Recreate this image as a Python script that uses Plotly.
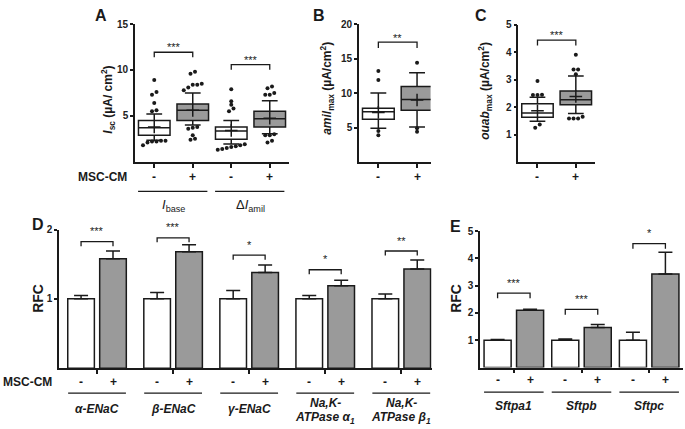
import plotly.graph_objects as go

W, H = 685, 429
def fx(p): return p / W
def fy(p): return 1 - p / H

FONT = "Arial, Liberation Sans, sans-serif"
INK = "#1a1a1a"
GRAY = "#9a9a9a"

# ---------------- data ----------------
A_cats = ["-", "+", "-", "+"]
A_q1 = [2.9, 4.5, 2.45, 3.8]
A_med = [3.7, 5.6, 3.35, 4.7]
A_q3 = [4.5, 6.3, 3.8, 5.5]
A_lo = [2.35, 4.0, 1.95, 3.05]
A_hi = [5.2, 7.5, 4.5, 6.65]
A_mean = [3.8, 5.6, 3.4, 4.75]
A_out = [[8.9, 7.6, 7.3, 6.4, 5.6, 5.5, 2.3, 2.3, 2.2, 2.2, 2.1, 1.8],
         [9.8, 9.6, 8.5, 8.4, 8.4, 8.1, 7.8, 3.8, 3.7, 3.6, 2.9, 2.5, 2.4],
         [7.9, 6.6, 6.2, 5.8, 5.5, 1.9, 1.8, 1.7, 1.6, 1.5, 1.4, 1.3],
         [8.2, 8.0, 7.5, 7.3, 7.3, 3.0, 2.9, 2.9, 2.3, 2.1]]
A_groups = ["<i>I</i><sub>base</sub>", "Δ<i>I</i><sub>amil</sub>"]

B_cats = ["-", "+"]
B_q1 = [6.2, 7.5]
B_med = [7.3, 9.05]
B_q3 = [7.8, 10.95]
B_lo = [4.9, 5.1]
B_hi = [10.0, 12.95]
B_mean = [7.2, 9.0]
B_out = [[13.2, 11.9, 4.5, 3.9], [14.4, 4.9, 4.4]]

C_cats = ["-", "+"]
C_q1 = [1.63, 2.09]
C_med = [1.79, 2.27]
C_q3 = [2.12, 2.59]
C_lo = [1.49, 1.77]
C_hi = [2.36, 3.13]
C_mean = [1.87, 2.39]
C_out = [[2.95, 2.45, 2.44, 2.44, 1.37, 1.25],
         [3.91, 3.37, 3.37, 3.2, 1.65, 1.59, 1.59, 1.59]]

D_genes_l1 = ["<i>α-ENaC</i>", "<i>β-ENaC</i>", "<i>γ-ENaC</i>", "<i>Na,K-</i>", "<i>Na,K-</i>"]
D_genes_l2 = ["", "", "", "<i>ATPase α<sub>1</sub></i>", "<i>ATPase β<sub>1</sub></i>"]
D_ctrl = [1.0, 1.0, 1.0, 1.0, 1.0]
D_ctrl_err = [0.05, 0.09, 0.12, 0.05, 0.07]
D_cm = [1.58, 1.68, 1.38, 1.19, 1.43]
D_cm_err = [0.11, 0.10, 0.11, 0.08, 0.13]
D_sig = ["***", "***", "*", "*", "**"]
D_brk = [1.825, 1.88, 1.63, 1.42, 1.69]

E_genes = ["<i>Sftpa1</i>", "<i>Sftpb</i>", "<i>Sftpc</i>"]
E_ctrl = [1.0, 1.0, 1.0]
E_ctrl_err = [0.03, 0.05, 0.29]
E_cm = [2.1, 1.47, 3.43]
E_cm_err = [0.04, 0.11, 0.8]
E_sig = ["***", "***", "*"]
E_brk = [2.73, 2.13, 4.54]

A_sig = ["***", "***"]
A_brk = [11.93, 10.57]
B_sig = ["**"]
B_brk = [17.37]
C_sig = ["***"]
C_brk = [4.44]

fig = go.Figure()
annotations = []
shapes = []

def txt(x, y, s, size=12, xref="paper", yref="paper", angle=0, bold=True, color=INK,
        xanchor="center", yanchor="middle"):
    annotations.append(dict(x=x, y=y, xref=xref, yref=yref, text=s, showarrow=False,
                            textangle=angle, xanchor=xanchor, yanchor=yanchor,
                            font=dict(family=FONT, size=size, color=color,
                                      weight="bold" if bold else "normal")))

def spread(vals, pxy, pxx, step=4.5, tol=3.5):
    vs = sorted(vals)
    groups, cur = [], [vs[0]]
    for v in vs[1:]:
        if (v - cur[-1]) * pxy < tol:
            cur.append(v)
        else:
            groups.append(cur); cur = [v]
    groups.append(cur)
    xs, ys = [], []
    for g in groups:
        n = len(g)
        for k, v in enumerate(g):
            xs.append((k - (n - 1) / 2) * step / pxx)
            ys.append(v)
    return xs, ys

def boxes(ax, q1, med, q3, lo, hi, mean, outs, pxy, pxx):
    xa, ya = "x" + ax, "y" + ax
    for i in range(len(q1)):
        fill = "white" if i % 2 == 0 else GRAY
        fig.add_trace(go.Box(x=[i], q1=[q1[i]], median=[med[i]], q3=[q3[i]],
                             lowerfence=[lo[i]], upperfence=[hi[i]], width=0.82,
                             whiskerwidth=0.5, fillcolor=fill, boxpoints=False,
                             line=dict(color=INK, width=1.5), xaxis=xa, yaxis=ya,
                             showlegend=False, hoverinfo="skip"))
        ox, oy = spread(outs[i], pxy, pxx)
        fig.add_trace(go.Scatter(x=[i + o for o in ox], y=oy, mode="markers",
                                 marker=dict(size=4, color=INK), xaxis=xa, yaxis=ya,
                                 showlegend=False, hoverinfo="skip"))
        fig.add_trace(go.Scatter(x=[i], y=[mean[i]], mode="markers",
                                 marker=dict(symbol="cross-thin", size=9,
                                             line=dict(width=1.5, color=INK)),
                                 xaxis=xa, yaxis=ya, showlegend=False, hoverinfo="skip"))

def bracket(ax, xl, xr, ytop, drop, label, star_gap):
    shapes.append(dict(type="path", xref="x" + ax, yref="y" + ax,
                       path=f"M {xl},{ytop-drop} L {xl},{ytop} L {xr},{ytop} L {xr},{ytop-drop}",
                       line=dict(color=INK, width=1.3)))
    txt((xl + xr) / 2, ytop + star_gap, label, size=11, xref="x" + ax, yref="y" + ax,
        bold=False, color=INK, yanchor="bottom")

# ---------- panels A-C ----------
boxes("", A_q1, A_med, A_q3, A_lo, A_hi, A_mean, A_out, 140 / 15, 38.5)
boxes("2", B_q1, B_med, B_q3, B_lo, B_hi, B_mean, B_out, 7.0, 38.7)
boxes("3", C_q1, C_med, C_q3, C_lo, C_hi, C_mean, C_out, 27.9, 38.0)

for k in range(2):
    bracket("", 2 * k, 2 * k + 1, A_brk[k], 0.55, A_sig[k], -0.35)
bracket("2", 0, 1, B_brk[0], 0.85, B_sig[0], -0.5)
bracket("3", 0, 1, C_brk[0], 0.2, C_sig[0], -0.12)

for i, c in enumerate(A_cats):
    txt(i, fy(173), c, size=12, xref="x")
for i, c in enumerate(B_cats):
    txt(i, fy(173), c, size=12, xref="x2")
for i, c in enumerate(C_cats):
    txt(i, fy(173), c, size=12, xref="x3")
txt(fx(102), fy(173), "MSC-CM", size=12)
for k, g in enumerate(A_groups):
    c = 2 * k + 0.5
    shapes.append(dict(type="line", xref="x", yref="paper", x0=c - 0.92, x1=c + 0.88,
                       y0=fy(188), y1=fy(188), line=dict(color=INK, width=1.2)))
    txt(c, fy(202), g, size=13, xref="x", bold=False)

# ---------- panels D, E ----------
def bars(ax, ctrl, cerr, cm, merr, half, bw):
    xa, ya = "x" + ax, "y" + ax
    idx = list(range(len(ctrl)))
    for vals, errs, fill, off in [(ctrl, cerr, "white", -half - bw / 2), (cm, merr, GRAY, half - bw / 2)]:
        fig.add_trace(go.Bar(x=idx, y=vals, width=bw, offset=off,
                             marker=dict(color=fill, line=dict(color=INK, width=1.5)),
                             error_y=dict(type="data", array=errs, arrayminus=[0] * len(errs),
                                          symmetric=False, color=INK, thickness=1.5, width=7),
                             xaxis=xa, yaxis=ya, showlegend=False, hoverinfo="skip"))

bars("4", D_ctrl, D_ctrl_err, D_cm, D_cm_err, 0.21, 0.35)
bars("5", E_ctrl, E_ctrl_err, E_cm, E_cm_err, 0.24, 0.40)

for i in range(len(D_ctrl)):
    bracket("4", i - 0.21, i + 0.21, D_brk[i], 0.065, D_sig[i], 0.035)
    txt(i - 0.21, fy(381.7), "-", xref="x4")
    txt(i + 0.21, fy(381.7), "+", xref="x4")
    shapes.append(dict(type="line", xref="x4", yref="paper", x0=i - 0.38, x1=i + 0.38,
                       y0=fy(392.7), y1=fy(392.7), line=dict(color=INK, width=1.2)))
    if D_genes_l2[i]:
        txt(i, fy(402.5), D_genes_l1[i], size=12, xref="x4")
        txt(i, fy(418), D_genes_l2[i], size=12, xref="x4")
    else:
        txt(i, fy(409), D_genes_l1[i], size=12, xref="x4")
txt(fx(27), fy(381.7), "MSC-CM", size=12)

for i in range(len(E_genes)):
    bracket("5", i - 0.24, i + 0.24, E_brk[i], 0.19, E_sig[i], 0.08)
    txt(i - 0.24, fy(379.3), "-", xref="x5")
    txt(i + 0.24, fy(379.3), "+", xref="x5")
    shapes.append(dict(type="line", xref="x5", yref="paper", x0=i - 0.44, x1=i + 0.44,
                       y0=fy(391.7), y1=fy(391.7), line=dict(color=INK, width=1.2)))
    txt(i, fy(406), E_genes[i], size=12, xref="x5")

# ---------- titles & letters ----------
txt(fx(108), fy(95), "<i>I</i><sub>sc</sub> (µA/ cm<sup>2</sup>)", size=12, angle=-90)
txt(fx(327), fy(84), "<i>amil</i><sub>max</sub> (µA/cm<sup>2</sup>)", size=12, angle=-90)
txt(fx(485), fy(86), "<i>ouab</i><sub>max</sub> (µA/cm<sup>2</sup>)", size=12, angle=-90)
txt(fx(38), fy(297), "RFC", size=14, angle=-90)
txt(fx(456), fy(297), "RFC", size=14, angle=-90)
for L, x, y in [("A", 101, 10), ("B", 319, 10), ("C", 481, 10), ("D", 37.5, 222), ("E", 455, 224)]:
    txt(fx(x), fy(y), L, size=16)

# ---------- axes ----------
def xaxis(dom, rng, tickvals):
    return dict(domain=[fx(dom[0]), fx(dom[1])], range=rng, showline=True, linecolor=INK,
                linewidth=1.6, ticks="outside", ticklen=4, tickwidth=1.5, tickcolor=INK,
                tickvals=tickvals, showticklabels=False, showgrid=False, zeroline=False,
                fixedrange=True)

def yaxis(dom, rng, tickvals, anchor):
    return dict(domain=[fy(dom[1]), fy(dom[0])], range=rng, showline=True, linecolor=INK,
                linewidth=1.6, ticks="outside", ticklen=3, tickwidth=1.5, tickcolor=INK,
                tickvals=tickvals, showgrid=False, zeroline=False, anchor=anchor,
                tickfont=dict(family=FONT, size=10, color="#222", weight="bold"),
                fixedrange=True)

fig.update_layout(
    width=W, height=H, margin=dict(l=0, r=0, t=0, b=0),
    paper_bgcolor="white", plot_bgcolor="white", barmode="overlay",
    font=dict(family=FONT, color=INK),
    xaxis=dict(**xaxis((135, 289), [-0.5, 3.5], [0, 1, 2, 3]), anchor="y"),
    yaxis=yaxis((18.3, 158), [0, 15], [5, 10, 15], "x"),
    xaxis2=dict(**xaxis((359, 430.6), [-0.5, 1.35], [0, 1]), anchor="y2"),
    yaxis2=yaxis((18.3, 158.3), [0, 20], [5, 10, 15, 20], "x2"),
    xaxis3=dict(**xaxis((518.3, 595), [-0.5, 1.5], [0, 1]), anchor="y3"),
    yaxis3=yaxis((19, 158.3), [0, 5], [1, 2, 3, 4, 5], "x3"),
    xaxis4=dict(**xaxis((59, 431.7), [-0.5, 4.4], [0, 1, 2, 3, 4]), anchor="y4"),
    yaxis4=yaxis((226.7, 367.3), [0, 2], [1, 2], "x4"),
    xaxis5=dict(**xaxis((480, 683), [-0.5, 2.5], [0, 1, 2]), anchor="y5"),
    yaxis5=yaxis((228.3, 366.7), [0, 5], [1, 2, 3, 4, 5], "x5"),
    annotations=annotations, shapes=shapes,
)

fig.write_html("out.html", config={"displayModeBar": False},
               post_script="document.body.style.margin='0px';document.body.style.overflow='hidden';")
